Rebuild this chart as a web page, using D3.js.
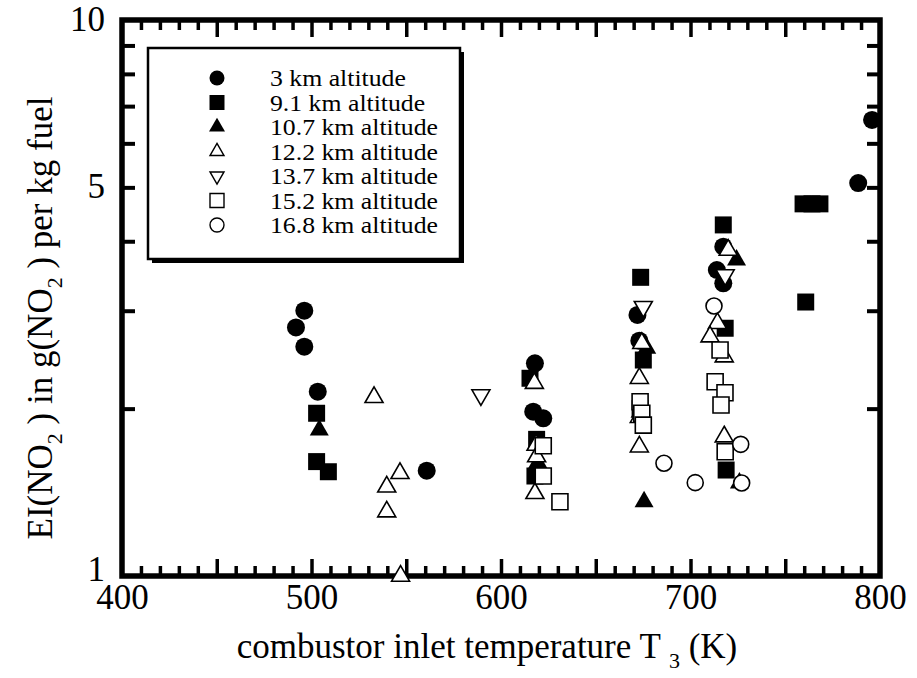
<!DOCTYPE html>
<html>
<head>
<meta charset="utf-8">
<script src="https://cdn.jsdelivr.net/npm/d3@7"></script>
<style>
  html, body { margin: 0; padding: 0; background: #fff; }
  svg { display: block; }
  svg text { font-family: "Liberation Serif", "Times New Roman", "DejaVu Serif", serif !important; fill: #000; }
</style>
</head>
<body>
<svg id="chart" width="917" height="678"></svg>
<script>
// ---- data (T3 in K, EI(NO2) in g/kg fuel) ----
const seriesNames = ["3 km altitude", "9.1 km altitude", "10.7 km altitude", "12.2 km altitude",
                     "13.7 km altitude", "15.2 km altitude", "16.8 km altitude"];
const alt3_0 = [[496.2,3.00],[491.8,2.80],[496.2,2.585],[503.3,2.145],[560.8,1.547],
                [617.9,2.413],[617.0,1.975],[622.3,1.921],[672.0,2.948],[673.0,2.65],
                [717.3,3.911],[713.9,3.551],[717.3,3.361],[788.5,5.09],[795.8,6.61]];
const alt9_1 = [[502.7,1.962],[502.7,1.606],[508.9,1.540],[615.3,2.268],[618.8,1.761],
                [617.9,1.513],[673.7,3.445],[675.1,2.446],[673.4,2.00],[717.3,4.28],
                [718.3,2.790],[718.8,1.551],[759.4,4.67],[764.1,4.67],[768.3,4.67],[760.8,3.11]];
const alt10_7 = [[504.1,1.830],[619.4,1.60],[676.9,2.568],[673.4,1.97],[675.5,1.360],
                 [724.3,3.701],[725.8,1.470]];
const alt12_2 = [[533.0,2.096],[546.7,1.530],[539.7,1.447],[539.7,1.305],[547.0,1.00],
                 [617.6,2.222],[618.5,1.72],[618.8,1.64],[617.9,1.408],[674.3,2.622],
                 [673.0,2.268],[673.0,1.93],[673.0,1.708],[719.9,3.858],[714.2,2.848],
                 [710.3,2.694],[717.8,2.480],[717.8,1.781]];
const alt13_7 = [[589.4,2.116],[675.1,3.051],[718.3,3.478]];
const alt15_2 = [[622.3,1.715],[622.3,1.513],[631.1,1.360],[673.4,2.058],[674.3,1.962],
                 [675.1,1.868],[715.6,2.550],[713.0,2.236],[718.2,2.136],[716.1,2.030],
                 [718.3,1.673]];
const alt16_8 = [[712.4,3.059],[686.0,1.595],[702.5,1.472],[726.5,1.725],[727.0,1.470]];
const allSeries = [alt3_0, alt9_1, alt10_7, alt12_2, alt13_7, alt15_2, alt16_8];
const symbolTypes = ["circle","square","triangle","triangle","triangleDown","square","circle"];
const filled = [true, true, true, false, false, false, false];

const xTickLabels = [400, 500, 600, 700, 800];
const yTickLabels = [1, 5, 10];

// ---- layout ----
const FONT = "'Liberation Serif', 'Times New Roman', serif";
const L = 122, R = 880, T = 20, B = 576;
const svg = d3.select("#chart");
const x = d3.scaleLinear().domain([400, 800]).range([L, R]);
const y = d3.scaleLog().domain([1, 10]).range([B, T]);

// inward ticks via axes
function styleTicks(g, width) {
  g.select(".domain").remove();
  g.selectAll("line").attr("stroke", "#000").attr("stroke-width", width);
  g.selectAll("text").remove();
}
const minorX = d3.range(410, 800, 10);
const isMajor = v => v % 50 === 0;
const gBot = svg.append("g").attr("transform", `translate(0,${B})`)
  .call(d3.axisBottom(x).tickValues(minorX).tickSize(-10).tickFormat(""));
styleTicks(gBot, 3.5);
gBot.selectAll(".tick line").attr("y2", d => isMajor(d) ? -17 : -10);
const gTop = svg.append("g").attr("transform", `translate(0,${T})`)
  .call(d3.axisTop(x).tickValues(minorX).tickSize(-10).tickFormat(""));
styleTicks(gTop, 3.5);
gTop.selectAll(".tick line").attr("y2", d => isMajor(d) ? 17 : 10);

const yMinor = [2,3,4,5,6,7,8,9];
const gLeft = svg.append("g").attr("transform", `translate(${L},0)`)
  .call(d3.axisLeft(y).tickValues(yMinor).tickSize(-13).tickFormat(""));
styleTicks(gLeft, 4);
const gRight = svg.append("g").attr("transform", `translate(${R},0)`)
  .call(d3.axisRight(y).tickValues(yMinor).tickSize(-13).tickFormat(""));
styleTicks(gRight, 4);

// frame
svg.append("rect").attr("x", L).attr("y", T).attr("width", R - L).attr("height", B - T)
  .attr("fill", "none").attr("stroke", "#000").attr("stroke-width", 5.5);

// tick labels
const gxl = svg.append("g").attr("transform", `translate(0,${B})`)
  .call(d3.axisBottom(x).tickValues(xTickLabels).tickSize(0).tickFormat(d3.format("d")));
gxl.select(".domain").remove();
gxl.attr("font-family", FONT);
gxl.selectAll("text").attr("y", 33).attr("dy", 0)
  .style("font-size", "35px");
const gyl = svg.append("g").attr("transform", `translate(${L},0)`)
  .call(d3.axisLeft(y).tickValues(yTickLabels).tickSize(0).tickFormat(d3.format("d")));
gyl.select(".domain").remove();
gyl.attr("font-family", FONT);
gyl.selectAll("text").attr("x", -17).attr("dy", d => d === 1 ? "0.12em" : "0.3em")
  .style("font-size", "35px");

// axis titles
const xt = svg.append("text").attr("x", 487).attr("y", 658).attr("text-anchor", "middle")
  .attr("font-family", FONT).style("font-size", "35px");
xt.append("tspan").text("combustor inlet temperature T ");
xt.append("tspan").attr("dy", 10).style("font-size", "22px").text("3");
xt.append("tspan").attr("dy", -10).text(" (K)");

const yt = svg.append("text").attr("transform", "translate(52,318) rotate(-90)")
  .attr("text-anchor", "middle").attr("font-family", FONT).style("font-size", "35px");
yt.append("tspan").text("EI(NO");
yt.append("tspan").attr("dy", 10).style("font-size", "22px").text("2");
yt.append("tspan").attr("dy", -10).text(" ) in g(NO");
yt.append("tspan").attr("dy", 10).style("font-size", "22px").text("2");
yt.append("tspan").attr("dy", -10).text(" ) per kg fuel");

// marker generator
function markerPath(type, s) {
  if (type === "circle") return d3.symbol(d3.symbolCircle, Math.PI * (s / 2) * (s / 2))();
  if (type === "square") return d3.symbol(d3.symbolSquare, s * s)();
  const h = s * Math.sqrt(3) / 2;
  if (type === "triangle") return `M0,${-h * 2 / 3}L${s / 2},${h / 3}L${-s / 2},${h / 3}Z`;
  return `M0,${h * 2 / 3}L${s / 2},${-h / 3}L${-s / 2},${-h / 3}Z`;
}
const sizes = { circle: 18, square: 17, triangle: 19, triangleDown: 19 };
const openSizes = { circle: 16, square: 16, triangle: 18, triangleDown: 18 };

// data points
allSeries.forEach((data, i) => {
  const type = symbolTypes[i];
  const s = filled[i] ? sizes[type] : openSizes[type];
  svg.append("g").selectAll("path").data(data).join("path")
    .attr("transform", d => `translate(${x(d[0])},${y(d[1])})`)
    .attr("d", markerPath(type, s))
    .attr("fill", filled[i] ? "#000" : "#fff")
    .attr("stroke", "#000")
    .attr("stroke-width", filled[i] ? 0 : 1.6);
});

// legend box with shadow
const lx = 148, ly = 48, lw = 312, lh = 211;
svg.append("rect").attr("x", lx + 4).attr("y", ly + 4).attr("width", lw).attr("height", lh)
  .attr("fill", "#000");
svg.append("rect").attr("x", lx).attr("y", ly).attr("width", lw).attr("height", lh)
  .attr("fill", "#fff").attr("stroke", "#000").attr("stroke-width", 2.5);
const legendRowY = d3.scaleLinear().domain([0, 6]).range([78, 225]);
seriesNames.forEach((name, i) => {
  const type = symbolTypes[i];
  const s = filled[i] ? (type === "triangle" ? 16 : 15) : 14;
  const cy = legendRowY(i);
  svg.append("path").attr("transform", `translate(217,${cy})`)
    .attr("d", markerPath(type, s))
    .attr("fill", filled[i] ? "#000" : "#fff").attr("stroke", "#000")
    .attr("stroke-width", filled[i] ? 0 : 1.4);
  svg.append("text").attr("transform", `translate(270,${cy}) scale(1.12,1)`)
    .attr("dy", "0.36em")
    .attr("font-family", FONT).style("font-size", "23px").text(name);
});
</script>
</body>
</html>
